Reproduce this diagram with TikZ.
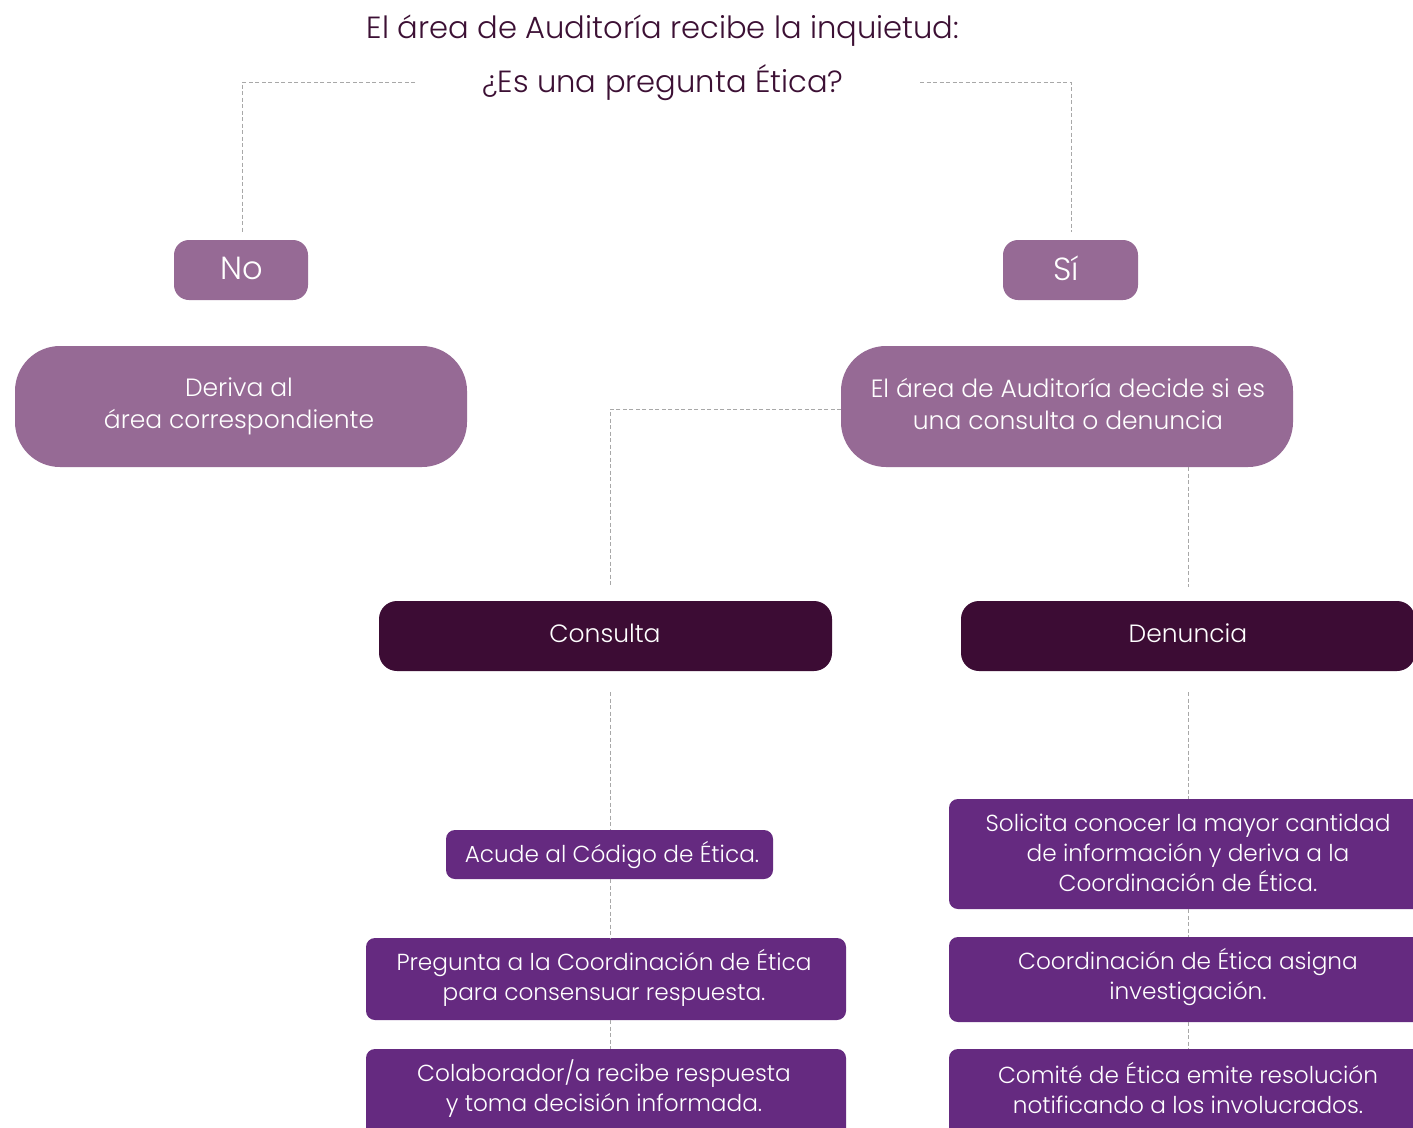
\documentclass[tikz,border=0pt]{standalone}
\usepackage{fontspec}
\setmainfont{Poppins Light}
\definecolor{lightp}{HTML}{966A95}
\definecolor{darkp}{HTML}{3C0C34}
\definecolor{midp}{HTML}{652A80}
\definecolor{titlec}{HTML}{3C1034}
\definecolor{dashc}{HTML}{A8A8A8}
\begin{document}
\begin{tikzpicture}[x=1pt,y=-1pt,
  box/.style={draw=none,text=white,align=center,inner sep=0pt,font=\fontsize{23.2}{30}\selectfont},
  bigbox/.style={box,font=\fontsize{25}{32}\selectfont},
  conn/.style={draw=dashc,dashed,dash pattern=on 4pt off 2.5pt,line width=0.9pt},
  titletxt/.style={text=titlec,font=\fontsize{30.6}{36}\selectfont,inner sep=0pt}]
\clip (0,0) rectangle (1413,1127);
\fill[white] (0,0) rectangle (1413,1127);
% title
\node[titletxt] (t1) at (663,31) {El área de Auditoría recibe la inquietud:};
\node[titletxt] (t2) at (663,83) {¿Es una pregunta Ética?};
% boxes
\fill[lightp,rounded corners=15pt] (174,240) rectangle (308,300);
\node[box,font=\fontsize{32}{36}\selectfont] (no) at (242,268) {No};
\fill[lightp,rounded corners=15pt] (1003,240) rectangle (1138,300);
\node[box,font=\fontsize{32}{36}\selectfont] (si) at (1066,268) {Sí};
\fill[lightp,rounded corners=45pt] (15,346) rectangle (467,467);
\node[bigbox] (deriva) at (239,406) {Deriva al\\área correspondiente};
\fill[lightp,rounded corners=45pt] (841,346) rectangle (1293,467);
\node[bigbox] (decide) at (1068,404) {El área de Auditoría decide si es\\una consulta o denuncia};
\fill[darkp,rounded corners=18pt] (379,601) rectangle (832,671);
\node[box,font=\fontsize{25}{30}\selectfont] (consulta) at (605,633) {Consulta};
\fill[darkp,rounded corners=18pt] (961,601) rectangle (1415,671);
\node[box,font=\fontsize{25}{30}\selectfont] (denuncia) at (1188,633) {Denuncia};
\fill[midp,rounded corners=9pt] (446,830) rectangle (773,879);
\node[box] (acude) at (612,855) {Acude al Código de Ética.};
\fill[midp,rounded corners=9pt] (366,938) rectangle (846,1020);
\node[box] (pregunta) at (604,978) {Pregunta a la Coordinación de Ética\\para consensuar respuesta.};
\fill[midp,rounded corners=9pt] (366,1049) rectangle (846,1140);
\node[box] (colab) at (604,1089) {Colaborador/a recibe respuesta\\y toma decisión informada.};
\fill[midp,rounded corners=9pt] (949,799) rectangle (1427,909);
\node[box] (solicita) at (1188,853) {Solicita conocer la mayor cantidad\\de información y deriva a la\\Coordinación de Ética.};
\fill[midp,rounded corners=9pt] (949,937) rectangle (1427,1022);
\node[box] (asigna) at (1188,977) {Coordinación de Ética asigna\\investigación.};
\fill[midp,rounded corners=9pt] (949,1049) rectangle (1427,1140);
\node[box] (comite) at (1188,1088) {Comité de Ética emite resolución\\notificando a los involucrados.};
% connectors
\coordinate (lA) at (415,82);
\coordinate (lB) at (242,82);
\coordinate (lC) at (242,232);
\coordinate (rA) at (920,82);
\coordinate (rB) at (1071,82);
\coordinate (rC) at (1071,232);
\draw[conn] (lA) -- (lB) -- (lC);
\draw[conn] (rA) -- (rB) -- (rC);
\coordinate (cA) at (841,409);
\coordinate (cB) at (610,409);
\coordinate (cC) at (610,587);
\draw[conn] (cA) -- (cB) -- (cC);
\coordinate (dA) at (1188,467);
\coordinate (dB) at (1188,587);
\draw[conn] (dA) -- (dB);
\coordinate (eA) at (610,692);
\coordinate (eB) at (610,830);
\draw[conn] (eA) -- (eB);
\coordinate (eC) at (610,879);
\coordinate (eD) at (610,938);
\draw[conn] (eC) -- (eD);
\coordinate (eE) at (610,1020);
\coordinate (eF) at (610,1049);
\draw[conn] (eE) -- (eF);
\coordinate (fA) at (1188,692);
\coordinate (fB) at (1188,799);
\draw[conn] (fA) -- (fB);
\coordinate (fC) at (1188,909);
\coordinate (fD) at (1188,937);
\draw[conn] (fC) -- (fD);
\coordinate (fE) at (1188,1022);
\coordinate (fF) at (1188,1049);
\draw[conn] (fE) -- (fF);
\end{tikzpicture}
\end{document}
